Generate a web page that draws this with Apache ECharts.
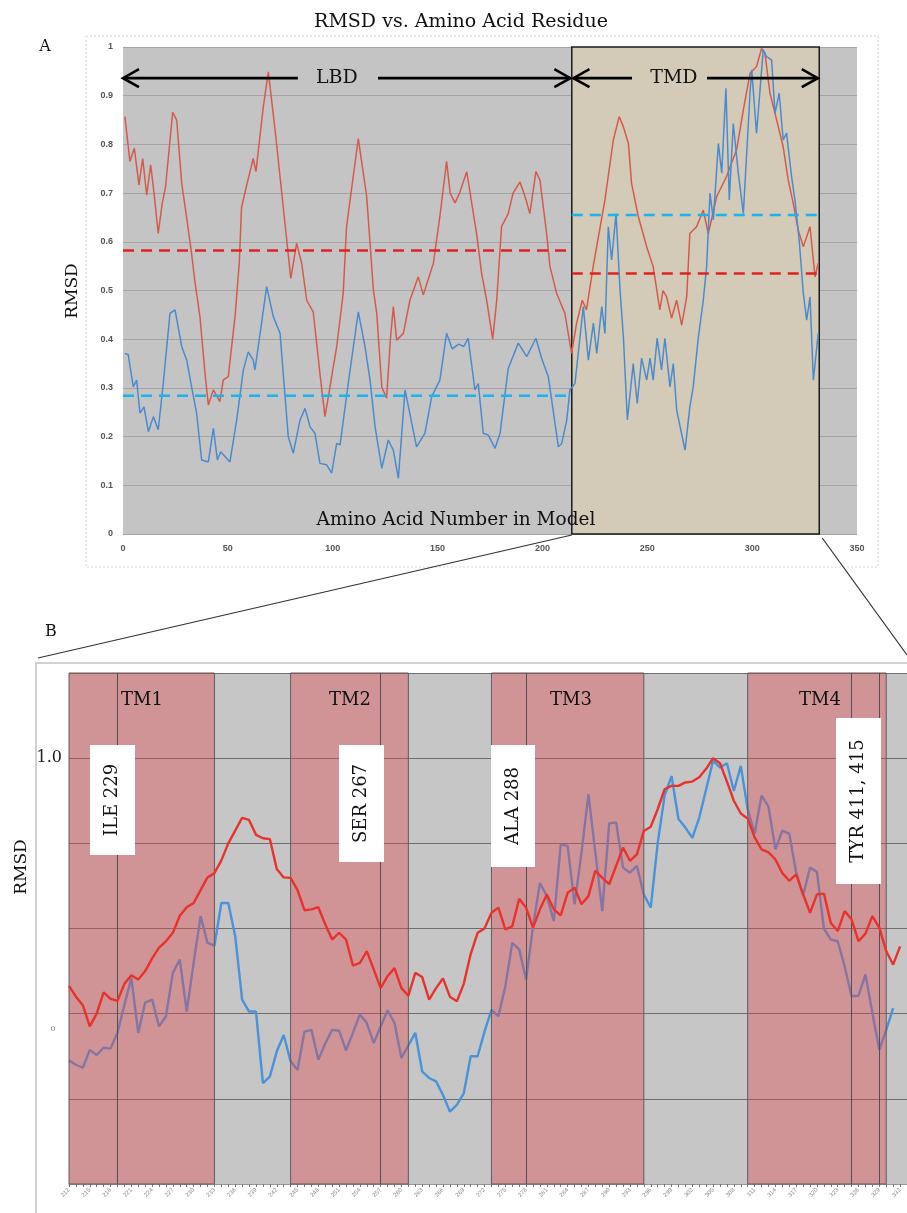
<!DOCTYPE html>
<html><head><meta charset="utf-8">
<script src="https://cdn.jsdelivr.net/npm/echarts@6/dist/echarts.min.js"></script>
<style>html,body{margin:0;padding:0;background:#fff}#c{width:907px;height:1213px}</style>
</head><body><div id="c"></div>
<script>
// ---------- Panel A data ----------
const aTicksX = [0, 50, 100, 150, 200, 250, 300, 350];
const aTicksY = [0, 0.1, 0.2, 0.3, 0.4, 0.5, 0.6, 0.7, 0.8, 0.9, 1];
const aRed = [[0.9,0.857],[3.3,0.765],[5.4,0.792],[7.6,0.717],[9.4,0.771],[11.3,0.696],[13.2,0.758],[14.8,0.70],[16.8,0.617],[18.7,0.679],[20.3,0.713],[23.7,0.866],[25.6,0.85],[28,0.72],[30.4,0.648],[32.7,0.576],[34.3,0.518],[36.7,0.446],[39.1,0.33],[40.7,0.265],[43.1,0.296],[46.2,0.272],[47.8,0.316],[50.2,0.323],[53.5,0.45],[55.5,0.56],[56.5,0.67],[59,0.717],[62.1,0.771],[63.4,0.744],[66.9,0.877],[69.3,0.949],[72.5,0.83],[76.4,0.672],[80,0.525],[82.8,0.597],[85.2,0.556],[87.6,0.48],[90.7,0.456],[93.9,0.33],[96.3,0.241],[98.7,0.302],[101.9,0.385],[105,0.494],[106.6,0.631],[112.2,0.812],[116.2,0.693],[119.4,0.501],[121,0.453],[123.4,0.302],[125.7,0.279],[127.5,0.40],[128.9,0.467],[130.5,0.398],[133.7,0.412],[136.8,0.48],[140.8,0.528],[143.2,0.491],[148,0.556],[151.1,0.652],[154.3,0.765],[156,0.70],[158.3,0.68],[160.5,0.70],[163.9,0.744],[168.6,0.617],[171,0.535],[173.4,0.48],[176.3,0.40],[178.2,0.48],[180.5,0.631],[183.7,0.658],[186,0.70],[189.3,0.723],[191.7,0.693],[194,0.658],[196.9,0.744],[198.8,0.727],[202,0.617],[203.6,0.549],[206.8,0.494],[210.7,0.453],[213.9,0.371],[216.3,0.433],[219,0.48],[221,0.46],[224.2,0.549],[229.8,0.686],[233.8,0.809],[236.6,0.857],[238.6,0.836],[241,0.802],[242.5,0.72],[245.7,0.652],[249.7,0.59],[252.8,0.549],[256,0.46],[257.5,0.50],[259.2,0.487],[261.6,0.443],[264,0.48],[266.4,0.429],[268.8,0.487],[270.3,0.617],[273.5,0.631],[276.7,0.665],[279.1,0.617],[283.1,0.693],[287.8,0.734],[292.6,0.789],[295.8,0.871],[299,0.946],[302.1,0.96],[304.5,0.997],[306.1,0.987],[308.5,0.905],[311.7,0.85],[314.8,0.795],[317.2,0.727],[319.6,0.679],[322,0.624],[324.4,0.59],[327.6,0.631],[330,0.528],[331.5,0.556]];
const aBlue = [[0.9,0.371],[2.5,0.368],[4.9,0.302],[6.5,0.316],[8.1,0.248],[10,0.261],[12.1,0.21],[14.5,0.241],[16.8,0.214],[19.2,0.309],[22.4,0.453],[24.8,0.46],[28,0.385],[30.4,0.357],[32.7,0.302],[35.1,0.248],[37.5,0.152],[40.7,0.148],[43.1,0.217],[45,0.152],[46.6,0.169],[51,0.148],[54.2,0.234],[57.4,0.337],[59.7,0.374],[62.1,0.357],[62.9,0.337],[64.5,0.385],[68.5,0.508],[71.7,0.446],[74.9,0.412],[78.8,0.2],[81.2,0.166],[84.4,0.234],[86.8,0.258],[89.2,0.22],[91.5,0.207],[93.9,0.145],[97.1,0.142],[99.5,0.125],[101.9,0.186],[103.5,0.183],[107.4,0.309],[112.2,0.456],[115.4,0.385],[117.8,0.316],[120.2,0.22],[123.4,0.135],[126.5,0.193],[128.9,0.172],[131.3,0.114],[134.5,0.296],[137.7,0.227],[140,0.179],[144,0.207],[147.2,0.282],[151.1,0.316],[154.3,0.412],[157,0.38],[160,0.39],[162.5,0.385],[164.6,0.402],[167.8,0.296],[169.4,0.309],[171.8,0.207],[174.2,0.203],[177.4,0.176],[179.8,0.207],[183.7,0.34],[188.5,0.392],[192.5,0.364],[196.9,0.402],[199.6,0.361],[202.8,0.323],[207.6,0.179],[209.2,0.186],[211.6,0.234],[213.1,0.296],[215.5,0.309],[219.5,0.467],[221.9,0.357],[224.3,0.433],[225.9,0.371],[228.3,0.467],[229.8,0.412],[231.4,0.631],[233,0.563],[235.1,0.658],[237,0.501],[238.6,0.405],[240.5,0.234],[243.3,0.35],[245.2,0.268],[247.3,0.361],[249.7,0.316],[251.3,0.361],[252.8,0.316],[254.7,0.402],[256.8,0.337],[258.4,0.402],[260.8,0.302],[262.4,0.35],[264,0.255],[268,0.172],[270.3,0.261],[271.9,0.302],[274.3,0.402],[276.7,0.48],[278.3,0.549],[279.9,0.70],[281.5,0.645],[283.9,0.802],[285.5,0.741],[287.5,0.915],[289.1,0.686],[291,0.843],[293.4,0.741],[295.8,0.658],[299,0.905],[299.8,0.953],[302.1,0.823],[305.3,0.994],[306.9,0.98],[309.3,0.973],[310.9,0.864],[312.9,0.905],[314.8,0.809],[316.4,0.823],[318.8,0.734],[320.4,0.686],[322.5,0.60],[324.4,0.494],[326,0.439],[327.6,0.487],[329.2,0.316],[331.5,0.412]];
const lbdRange = [0, 214];
const tmdRange = [214, 332];
const redMeans = [0.582, 0.535];   // LBD, TMD
const blueMeans = [0.284, 0.655];  // LBD, TMD

// ---------- Panel B data ----------
const bCats = ['212','213','214','215','216','217','218','219','220','221','222','223','224','225','226','227','228','229','230','231','232','233','234','235','236','237','238','239','240','241','242','243','244','245','246','247','248','249','250','251','252','253','254','255','256','257','258','259','260','261','262','263','264','265','266','267','268','269','270','271','272','273','274','275','276','277','278','279','280','281','282','283','284','285','286','287','288','289','290','291','292','293','294','295','296','297','298','299','300','301','302','303','304','305','306','307','308','309','310','311','312','313','314','315','316','317','318','319','320','321','322','323','324','325','326','327','328','329','330','331','332','333'];
const bRed = [0.465,0.44,0.42,0.37,0.40,0.45,0.435,0.43,0.47,0.49,
  0.48,0.50,0.53,0.555,0.57,0.59,0.63,0.65,0.66,0.69,
  0.72,0.73,0.76,0.80,0.83,0.86,0.855,0.82,0.812,0.81,
  0.74,0.72,0.719,0.69,0.643,0.645,0.65,0.61,0.574,0.59,
  0.574,0.513,0.519,0.547,0.504,0.46,0.488,0.507,0.46,0.442,
  0.496,0.486,0.433,0.46,0.483,0.44,0.429,0.47,0.54,0.59,
  0.60,0.637,0.649,0.598,0.605,0.67,0.649,0.602,0.645,0.68,
  0.645,0.631,0.684,0.696,0.657,0.676,0.736,0.719,0.704,0.747,
  0.79,0.759,0.774,0.829,0.839,0.88,0.927,0.935,0.935,0.943,
  0.945,0.955,0.975,1.0,0.988,0.945,0.9,0.87,0.858,0.814,
  0.786,0.779,0.762,0.73,0.712,0.727,0.68,0.637,0.68,0.682,
  0.613,0.594,0.641,0.621,0.57,0.588,0.629,0.602,0.547,0.515,
  0.558];
const bBlue = [0.29,0.28,0.273,0.315,0.303,0.32,0.318,0.355,0.42,0.484,
  0.355,0.426,0.433,0.37,0.394,0.496,0.527,0.405,0.52,0.629,
  0.566,0.56,0.66,0.66,0.582,0.433,0.405,0.405,0.237,0.252,
  0.311,0.35,0.288,0.268,0.358,0.362,0.292,0.33,0.362,0.36,
  0.314,0.355,0.398,0.378,0.331,0.37,0.408,0.378,0.296,0.325,
  0.355,0.264,0.249,0.241,0.209,0.170,0.186,0.213,0.30,0.30,
  0.358,0.409,0.394,0.464,0.566,0.551,0.48,0.605,0.707,0.676,
  0.617,0.797,0.794,0.657,0.778,0.915,0.778,0.641,0.847,0.849,
  0.743,0.731,0.747,0.68,0.649,0.80,0.912,0.958,0.857,0.837,
  0.813,0.86,0.927,0.994,0.978,0.988,0.923,0.982,0.88,0.823,
  0.912,0.886,0.786,0.83,0.823,0.731,0.678,0.743,0.733,0.60,
  0.574,0.57,0.511,0.441,0.442,0.492,0.402,0.315,0.362,0.413];
const bBands = [['212','233'],['244','261'],['273','295'],['310','330']];
const bBandNames = ['TM1','TM2','TM3','TM4'];
const bResidueLines = ['219','257','278','325','329'];
const bBoxLabels = ['ILE 229','SER 267','ALA 288','TYR 411, 415'];

const SERIF = '"DejaVu Serif", "Liberation Serif", serif';
const chart = echarts.init(document.getElementById('c'), null, {renderer:'canvas'});

function dashed(range, v, color){
  return {type:'line', xAxisIndex:0, yAxisIndex:0, z:5, symbol:'none', silent:true,
    data:[[range[0], v],[range[1], v]],
    lineStyle:{color:color, width:2.6, type:[11,7]}};
}

chart.setOption({
  animation:false,
  grid:[
    {left:123, top:47, width:734, height:487, show:true, backgroundColor:'#c4c4c4', borderWidth:0},
    {left:69, top:673, width:838, height:511, show:true, backgroundColor:'#c6c6c6', borderWidth:0}
  ],
  xAxis:[
    {type:'value', gridIndex:0, min:aTicksX[0], max:aTicksX[aTicksX.length-1], interval:50,
      axisLine:{show:false}, axisTick:{show:false}, splitLine:{show:false},
      axisLabel:{color:'#555', fontSize:9, fontFamily:'Liberation Sans', fontWeight:'bold', margin:10}},
    {type:'category', gridIndex:1, data:bCats, boundaryGap:false,
      axisLine:{show:true, lineStyle:{color:'#999'}},
      axisTick:{show:true, interval:0, length:3, lineStyle:{color:'#777'}},
      splitLine:{show:false},
      axisLabel:{interval:2, rotate:45, fontSize:6, color:'#8a8a8a', margin:5}}
  ],
  yAxis:[
    {type:'value', gridIndex:0, min:aTicksY[0], max:aTicksY[aTicksY.length-1], interval:0.1,
      axisLine:{show:false}, axisTick:{show:false},
      splitLine:{lineStyle:{color:'#a4a4a4', width:1}},
      axisLabel:{color:'#555', fontSize:9, fontFamily:'Liberation Sans', fontWeight:'bold', margin:10,
        formatter:v=>String(Math.round(v*10)/10)}},
    {type:'value', gridIndex:1, min:0, max:1.2, interval:0.2,
      axisLine:{show:false}, axisTick:{show:false},
      splitLine:{lineStyle:{color:'#6e6e6e', width:1}},
      axisLabel:{color:'#222', fontSize:16, fontFamily:SERIF, margin:7,
        formatter:v=>(Math.abs(v-1)<1e-6 ? '1.0' : '')}}
  ],
  series:[
    // Panel A
    {type:'line', xAxisIndex:0, yAxisIndex:0, data:[], clip:false, z:1, silent:true,
      markArea:{silent:true, z:1, itemStyle:{color:'#d3cbb7', borderColor:'#1a1a1a', borderWidth:1.5},
        data:[[{coord:[tmdRange[0],1.008]},{coord:[tmdRange[1],0]}]]}},
    {type:'line', xAxisIndex:0, yAxisIndex:0, data:aRed, z:2, symbol:'none', silent:true,
      lineStyle:{color:'#d65a4c', width:1.5}},
    {type:'line', xAxisIndex:0, yAxisIndex:0, data:aBlue, z:3, symbol:'none', silent:true,
      lineStyle:{color:'#4a8bd0', width:1.5}},
    dashed(lbdRange, redMeans[0], '#e02222'),
    dashed(tmdRange, redMeans[1], '#e02222'),
    dashed(lbdRange, blueMeans[0], '#1ab4ec'),
    dashed(tmdRange, blueMeans[1], '#1ab4ec'),
    // Panel B
    {type:'line', xAxisIndex:1, yAxisIndex:1, data:bBlue, z:2, symbol:'none', silent:true,
      lineStyle:{color:'#4a93da', width:2.4}},
    {type:'line', xAxisIndex:1, yAxisIndex:1, data:[], z:3, silent:true,
      markArea:{silent:true, z:3, itemStyle:{color:'rgba(226,72,78,0.40)', borderColor:'#5c5c5c', borderWidth:1},
        data:bBands.map(b=>[{xAxis:b[0], yAxis:1.2},{xAxis:b[1], yAxis:0}])},
      markLine:{silent:true, z:3, symbol:'none', label:{show:false},
        lineStyle:{color:'#505050', width:1, type:'solid'},
        data:bResidueLines.map(c=>({xAxis:c}))}},
    {type:'line', xAxisIndex:1, yAxisIndex:1, data:bRed, z:4, symbol:'none', silent:true,
      lineStyle:{color:'#e8322b', width:2.4}}
  ]
});

// ---------- annotations ----------
const pA = (x,y)=>chart.convertToPixel({xAxisIndex:0, yAxisIndex:0},[x,y]);
const arrowY = 0.936;
const g = [];
function txt(x,y,text,size,opts){
  g.push(Object.assign({type:'text', x:x, y:y, z:100, silent:true,
    style:{text:text, font:size+'px '+SERIF, fill:'#111', align:'center', verticalAlign:'middle'}}, opts||{}));
}
function line(x1,y1,x2,y2,w,c,dash){
  g.push({type:'line', z:100, silent:true, shape:{x1:x1,y1:y1,x2:x2,y2:y2},
    style:{stroke:c||'#000', lineWidth:w, lineDash:dash||null}});
}
function head(tx,ty,dir){
  g.push({type:'polyline', z:100, silent:true,
    shape:{points:[[tx+dir*16,ty-9],[tx,ty],[tx+dir*16,ty+9]]},
    style:{stroke:'#000', lineWidth:2.6, fill:null}});
}
// frame A
g.push({type:'rect', z:0, silent:true, shape:{x:86,y:36,width:792,height:531},
  style:{stroke:'#d6d6d6', lineWidth:1, fill:null, lineDash:[2,2]}});
txt(461,22,'RMSD vs. Amino Acid Residue',19);
txt(45,47,'A',16);
// LBD / TMD arrows
const L0 = pA(lbdRange[0],arrowY), L1 = pA(83.4,arrowY), Lt = pA(102,arrowY), L2 = pA(121.6,arrowY), L3 = pA(213.3,arrowY);
line(L0[0],L0[1],L1[0],L1[1],2.6); head(L0[0],L0[1],1);
txt(Lt[0],Lt[1],'LBD',19);
line(L2[0],L2[1],L3[0],L3[1],2.6); head(L3[0],L3[1],-1);
const T0 = pA(214.8,arrowY), T1 = pA(242.7,arrowY), Tt = pA(262.7,arrowY), T2 = pA(278.5,arrowY), T3 = pA(331.3,arrowY);
line(T0[0],T0[1],T1[0],T1[1],2.6); head(T0[0],T0[1],1);
txt(Tt[0],Tt[1],'TMD',19);
line(T2[0],T2[1],T3[0],T3[1],2.6); head(T3[0],T3[1],-1);
txt(73,291,'RMSD',17,{rotation:Math.PI/2});
txt(456,520,'Amino Acid Number in Model',18.5);
// zoom connectors
const c0 = pA(tmdRange[0],0), c1 = pA(tmdRange[1],0);
line(c0[0],c0[1]+1,38,658,1.2,'#333');
line(c1[0]+3,c1[1]+4,907,655,1.2,'#333');
// Panel B frame + labels
g.push({type:'polyline', z:0, silent:true, shape:{points:[[36,1213],[36,663],[907,663]]},
  style:{stroke:'#c4c4c4', lineWidth:1.5, fill:null}});
txt(51,632,'B',16);
txt(22,867,'RMSD',17,{rotation:Math.PI/2});
g.push({type:'text', x:53, y:1029, z:100, silent:true,
  style:{text:'0', font:'8px '+SERIF, fill:'#777', align:'center', verticalAlign:'middle'}});
const tmX = [142, 350, 571, 820];
bBandNames.forEach((n,i)=>txt(tmX[i],700,n,18));
const boxes = [[90,745,45,110],[339,745,45,117],[491,745,44,122],[836,718,45,166]];
bBoxLabels.forEach((t,i)=>{
  const b = boxes[i];
  g.push({type:'rect', z:99, silent:true, shape:{x:b[0],y:b[1],width:b[2],height:b[3]}, style:{fill:'#fff', stroke:null}});
  txt(b[0]+b[2]/2, b[1]+b[3]/2, t, 18, {rotation:Math.PI/2});
});
chart.setOption({graphic:g});
</script>
</body></html>
